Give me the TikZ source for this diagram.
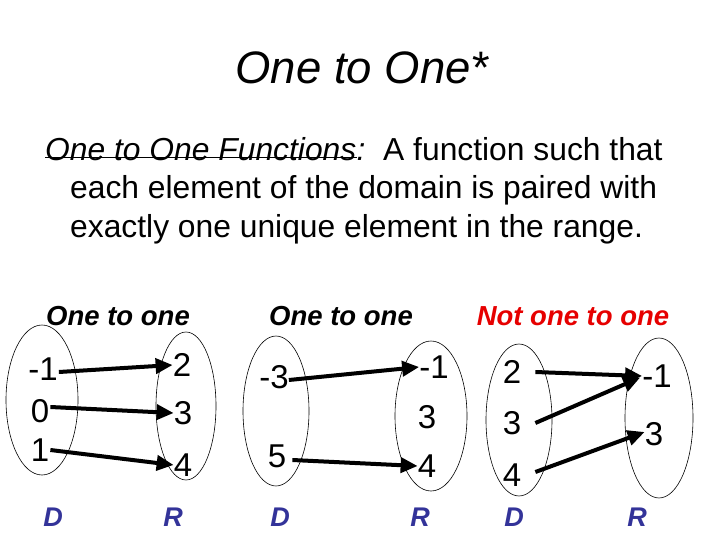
\documentclass[tikz,border=0pt]{standalone}
\usepackage{fontspec}
\setmainfont{Liberation Sans}
\usetikzlibrary{arrows.meta}
\definecolor{dblue}{RGB}{51,51,153}
\definecolor{nred}{RGB}{230,0,0}
\begin{document}
\begin{tikzpicture}[x=1pt,y=-1pt,
  num/.style={font=\fontsize{33}{33}\selectfont,inner sep=0pt},
  sub/.style={font=\fontsize{27.5}{27.5}\selectfont\bfseries\itshape,inner sep=0pt},
  dr/.style={font=\fontsize{27}{27}\selectfont\bfseries\itshape,text=dblue,inner sep=0pt},
  arr/.style={line width=4pt,-{Triangle[length=17pt,width=15pt]}},
  body/.style={font=\fontsize{31.8}{31.8}\selectfont,anchor=base west,inner sep=0pt}]
\useasboundingbox (0,0) rectangle (720,540);
\node[font=\fontsize{45.5}{45.5}\selectfont\itshape] (title) at (362,68) {One to One*};
\node[body] (u1) at (45,161) {\itshape One to One Functions};
\draw[line width=1.3pt] ([yshift=3.5pt]u1.base west) -- ([yshift=3.5pt]u1.base east);
\node[body] (l1) at (u1.base east) {\textit{:}\ \ A function such that};
\node[body] (l2) at (70,199) {each element of the domain is paired with};
\node[body] (l3) at (70,237) {exactly one unique element in the range.};
\node[sub] (s1) at (118,316) {One to one};
\node[sub] (s2) at (341,316) {One to one};
\node[sub,text=nred] (s3) at (573,316) {Not one to one};
% ellipses
\draw[line width=0.6pt] (42,400) ellipse [x radius=36,y radius=75];
\draw[line width=0.6pt] (186,406) ellipse [x radius=30,y radius=74];
\draw[line width=0.6pt] (276,411) ellipse [x radius=33,y radius=75];
\draw[line width=0.6pt] (431,416) ellipse [x radius=36,y radius=75];
\draw[line width=0.6pt] (519,420) ellipse [x radius=33,y radius=76];
\draw[line width=0.6pt] (659,418) ellipse [x radius=34,y radius=80];
% group 1
\node[num] (a1) at (43,369) {-1};
\node[num] (a2) at (40,411) {0};
\node[num] (a3) at (40,450) {1};
\node[num] (b1) at (182,365) {2};
\node[num] (b2) at (183,413) {3};
\node[num] (b3) at (183,465) {4};
\draw[arr] (a1.east) ++(1,3) coordinate (p1) (p1) -- (b1.west);
\draw[arr] (a2.east) ++(1,-4) coordinate (p2) (p2) -- (b2.west);
\draw[arr] (a3.east) ++(1,0) coordinate (p3) (p3) -- (b3.west);
% group 2
\node[num] (c1) at (274,377) {-3};
\node[num] (c2) at (277,456) {5};
\node[num] (e1) at (434,367) {-1};
\node[num] (e2) at (427,417) {3};
\node[num] (e3) at (427,466) {4};
\draw[arr] (c1.east) ++(0,3) coordinate (p4) (p4) -- (e1.west);
\draw[arr] (c2.east) ++(6,4) coordinate (p5) (p5) -- (e3.west);
% group 3
\node[num] (f1) at (512,372) {2};
\node[num] (f2) at (512,423) {3};
\node[num] (f3) at (512,475) {4};
\node[num] (g1) at (657,376) {-1};
\node[num] (g2) at (654,434) {3};
\draw[arr] (f1.east) ++(14,0) coordinate (p6) (p6) -- (g1.west);
\draw[arr] (f2.east) ++(14,0) coordinate (p7) (p7) -- ([xshift=-2pt,yshift=10pt]g1.south west);
\draw[arr] (f3.east) ++(14,-3) coordinate (p8) (p8) -- ([yshift=2pt]g2.west);
% D R
\node[dr] (d1) at (53,517) {D};
\node[dr] (r1) at (173,517) {R};
\node[dr] (d2) at (280,517) {D};
\node[dr] (r2) at (420,517) {R};
\node[dr] (d3) at (514,517) {D};
\node[dr] (r3) at (637,517) {R};
\end{tikzpicture}
\end{document}
